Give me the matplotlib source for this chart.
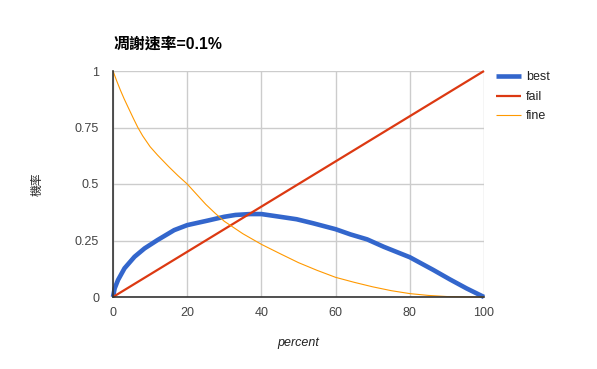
import matplotlib
matplotlib.use("Agg")
import matplotlib.pyplot as plt

plt.rcParams['font.family'] = ['Liberation Sans', 'Noto Sans CJK TC', 'DejaVu Sans']

title = "凋謝速率=0.1%"
x_label = "percent"
y_label = "機率"
series_names = ["best", "fail", "fine"]

best_x = [0, 0.45, 1.35, 3.1, 5.8, 8.5, 12, 16.5, 20, 25.5, 30, 33, 37, 40, 45, 49.5,
          54, 60, 64, 68.5, 73, 80, 86.3, 90.8, 95.3, 100]
best_y = [0, 0.038, 0.075, 0.127, 0.178, 0.215, 0.252, 0.296, 0.318, 0.338, 0.355, 0.363,
          0.367, 0.367, 0.355, 0.344, 0.326, 0.300, 0.277, 0.255, 0.222, 0.176, 0.120,
          0.078, 0.038, 0.0]

fail_x = [0, 20, 40, 60, 80, 100]
fail_y = [0, 0.2, 0.4, 0.6, 0.8, 1.0]

fine_x = [0, 1, 2, 3, 4, 5.5, 6.7, 8, 10, 12, 15, 17.5, 20, 22.5, 25, 27.5, 30, 35, 40,
          45, 50, 55, 60, 65, 70, 75, 80, 85, 90, 95, 100]
fine_y = [1.0, 0.956, 0.915, 0.877, 0.842, 0.79, 0.75, 0.713, 0.665, 0.628, 0.577,
          0.537, 0.5, 0.455, 0.41, 0.371, 0.335, 0.28, 0.233, 0.192, 0.152, 0.118, 0.087,
          0.065, 0.045, 0.028, 0.015, 0.007, 0.002, 0.0005, 0.0]

x_ticks = [0, 20, 40, 60, 80, 100]
y_ticks = [0, 0.25, 0.5, 0.75, 1]
y_tick_labels = ["0", "0.25", "0.5", "0.75", "1"]

colors = ["#3366cc", "#dc3912", "#ff9900"]
widths = [3.3, 1.6, 0.8]

fig = plt.figure(figsize=(5.97, 3.69), dpi=100)
ax = fig.add_axes([113/597, 1-297/369, (484-113)/597, (297-71)/369])

for xs, ys, c, w, name in zip([best_x, fail_x, fine_x], [best_y, fail_y, fine_y],
                               colors, widths, series_names):
    ax.plot(xs, ys, color=c, lw=w, label=name, solid_joinstyle='round',
            solid_capstyle='butt', clip_on=False)

ax.set_xlim(0, 100)
ax.set_ylim(0, 1)
ax.set_xticks(x_ticks)
ax.set_yticks(y_ticks)
ax.set_yticklabels(y_tick_labels)
ax.grid(True, color="#cccccc", lw=1)
ax.set_axisbelow(True)
for s in ["top", "right"]:
    ax.spines[s].set_visible(False)
for s in ["left", "bottom"]:
    ax.spines[s].set_color("#333333")
    ax.spines[s].set_linewidth(1.2)
ax.tick_params(length=0, labelsize=9, colors="#444444", pad=10)
ax.tick_params(axis='x', pad=7)

fig.text(113/597, 1-44/369, title, fontsize=11.4, fontweight='bold', ha='left',
         va='center', color='#000000')
fig.text(298/597, 1-343/369, x_label, fontsize=9, style='italic', ha='center',
         va='center', color='#222222')
fig.text(38/597, 1-184/369, y_label, fontsize=8.5, style='italic', rotation=90,
         ha='center', va='center', color='#222222')

leg = ax.legend(loc='upper left', bbox_to_anchor=(1.018, 1.02), frameon=False,
                fontsize=9, handlelength=2.0, handletextpad=0.4, labelspacing=0.6,
                borderaxespad=0)
for t in leg.get_texts():
    t.set_color("#222222")

fig.savefig("out.png", dpi=100)
